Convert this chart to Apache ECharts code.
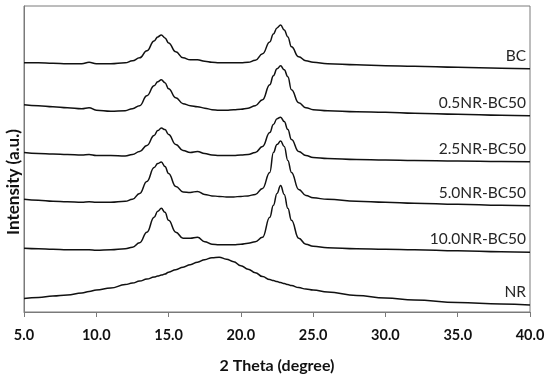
<!DOCTYPE html>
<html>
<head>
<meta charset="utf-8">
<script src="https://cdn.jsdelivr.net/npm/echarts@6/dist/echarts.min.js"></script>
<style>html,body{margin:0;padding:0;background:#fff}#c{width:550px;height:379px}</style>
</head>
<body>
<div id="c"></div>
<script>
var twoTheta = [5,6,7,8,9,9.5,10,11,12,12.5,13,13.5,14,14.25,14.5,14.75,15,15.5,16,16.5,17,17.5,18,18.5,19,19.5,20,20.5,21,21.5,22,22.25,22.5,22.75,23,23.25,23.5,24,24.5,25,26,28,30,32,35,38,40];
var xTicks = [5,10,15,20,25,30,35,40];
var seriesNames = ['BC','0.5NR-BC50','2.5NR-BC50','5.0NR-BC50','10.0NR-BC50','NR'];
var BC = [250,250,249.5,249,249,250.5,249,249,250,252,255,262,272,276,278,275,270,261,255,253,253,251.5,250.5,250,250,250,250,250.5,252.5,259,271,279,285,288,283,276,266,256,252,250.5,249,248,247,246.5,245.5,244.5,244];
var NR05 = [208,207,206,205,204,205,202.5,201.5,202,204,207,217,227,231,233,230,224,215,209,207,206,204.5,203,202.5,202.5,203,203.5,204.5,207,213,228,237,244,247,243,236,223,210,205,203,202,201,200.5,199.5,198.5,197.5,197];
var NR25 = [160,159,158.5,158,157.5,158,157,157,156.5,158,161,167,177,182,184.5,183,178,168,162,160,161,159,157.5,157,157,157,157.5,158,160,166,180,188,194,195.5,191,183,173,161,157,155,154,153,152.5,152,151.5,151,150.7];
var NR50 = [113,112,111,110.5,110,110.5,110,110,111,113,119,131,145,149,150.5,146,139,126,120.5,120,121,118,116.5,116,115.5,115.5,116,116.5,118,124,140,160,168,171.5,166,152,140,123,117,114.5,113,111,110,109,108,107,106.5];
var NR100 = [64,63.5,63,62.5,62.5,62.5,62,62.5,63.5,65,69.5,80,95,101,104,100,92,80,74,74,75,70.5,68,67.5,67.5,67.5,68,69,70.5,75,95,107,119,127,118,104,92,74,68,66,64.5,63.5,63,62.5,61.5,60.5,60];
var NRpure = [13.5,14.5,16,17,19,20.5,22,24,27.5,29,31,33,35,36,37,38,40,42.5,45,47.5,50,52.5,54.5,55,53,50.5,46.5,43,39.5,35.5,32.5,31.5,30.5,29.5,28.5,27.5,26.5,24.5,23,22,20,16.5,14,12,9.5,8,7];

var allData = [BC, NR05, NR25, NR50, NR100, NRpure];
var FONT = 'Lato, "Open Sans", sans-serif';
var chart = echarts.init(document.getElementById('c'), null, {renderer:'canvas'});
var series = allData.map(function(arr, i){
  return {
    name: seriesNames[i],
    type: 'line',
    data: twoTheta.map(function(x, j){ return [x, arr[j]]; }),
    showSymbol: false,
    smooth: 0.45,
    smoothMonotone: 'x',
    lineStyle: {color: '#111', width: 1.5},
    itemStyle: {color: '#111'},
    silent: true,
    animation: false,
    endLabel: {
      show: true,
      formatter: '{a}',
      distance: 0,
      align: 'right',
      verticalAlign: 'middle',
      offset: [-4, -13],
      fontFamily: FONT,
      fontSize: 15.5,
      color: '#262626'
    }
  };
});
chart.setOption({
  animation: false,
  backgroundColor: '#fff',
  grid: {left: 24, right: 20, top: 6, bottom: 66, show: true, borderColor: '#7a7a7a', borderWidth: 1},
  xAxis: {
    type: 'value', min: 5, max: 40, interval: 5,
    name: '2 Theta (degree)', nameLocation: 'middle', nameGap: 46,
    nameTextStyle: {fontFamily: FONT, fontWeight: 'bold', fontSize: 16, color: '#111'},
    axisLine: {show: true, lineStyle: {color: '#7a7a7a', width: 1}},
    axisTick: {show: true, inside: false, length: 5, lineStyle: {color: '#7a7a7a'}},
    axisLabel: {fontFamily: FONT, fontWeight: 'bold', fontSize: 14.5, color: '#111', margin: 16,
      formatter: function(v){ return xTicks.indexOf(v) >= 0 ? v.toFixed(1) : ''; }},
    splitLine: {show: false}
  },
  yAxis: {
    type: 'value', min: 0, max: 307,
    axisLine: {show: true, lineStyle: {color: '#7a7a7a', width: 1}},
    axisTick: {show: false},
    axisLabel: {show: false},
    splitLine: {show: false}
  },
  graphic: [{
    type: 'text', x: 14, y: 182, rotation: Math.PI/2,
    style: {text: 'Intensity (a.u.)', fontFamily: FONT, fontWeight: 'bold', fontSize: 17, fill: '#111', align: 'center', verticalAlign: 'middle'}
  }],
  series: series
});
</script>
</body>
</html>
